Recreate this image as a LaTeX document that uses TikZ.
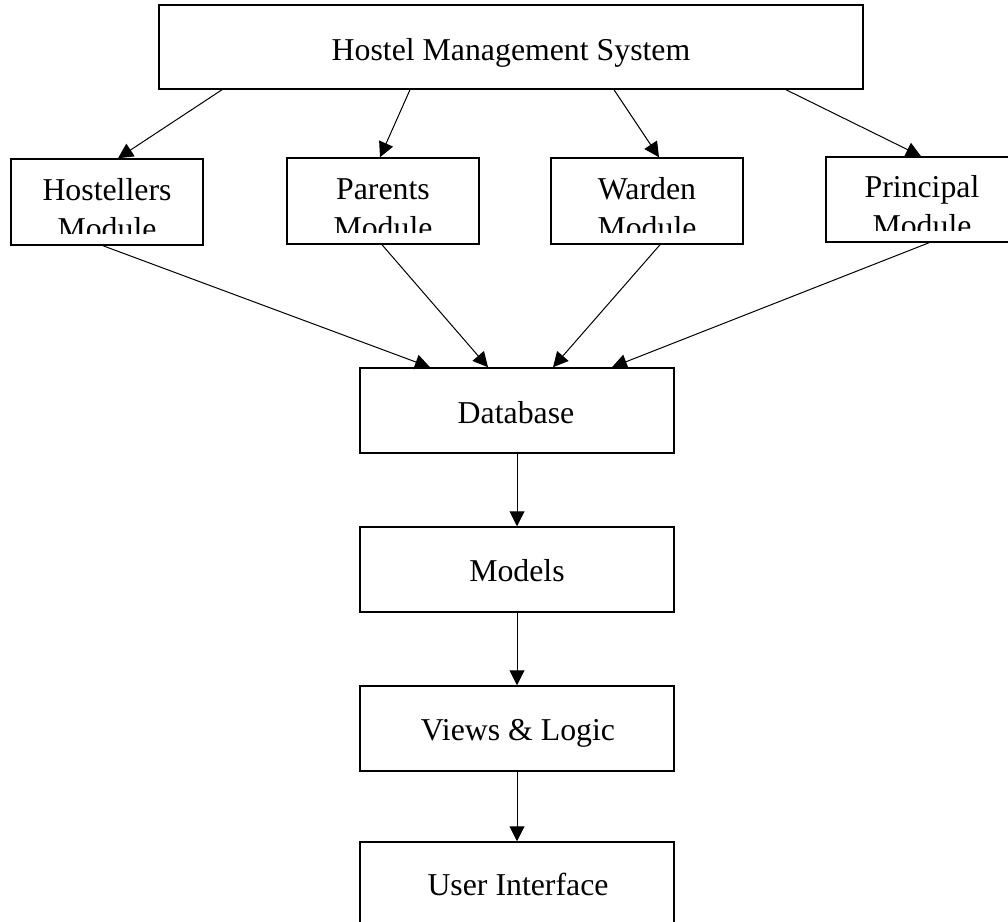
\documentclass[tikz,border=0pt]{standalone}
\usepackage{fontspec}
\setmainfont{Liberation Serif}
\usetikzlibrary{arrows.meta}
\begin{document}
\begin{tikzpicture}[x=1pt,y=-1pt,
  box/.style={draw,line width=1.5pt,rectangle,inner sep=0pt,minimum width=192pt,minimum height=86pt},
  wbox/.style={draw,line width=1.5pt,rectangle,inner sep=0pt,minimum width=314pt,minimum height=85pt},
  lbl/.style={anchor=base,inner sep=0pt,font=\fontsize{31.8}{39}\selectfont},
  arr/.style={line width=1pt,-{Triangle[length=15pt,width=15pt]}}]
\useasboundingbox (0,0) rectangle (1008,921);
% boxes
\node[draw,line width=1.5pt,rectangle,inner sep=0pt,minimum width=704pt,minimum height=84pt] (top) at (511,47) {};
\node[box] (hst) at (107,202) {};
\node[box] (par) at (383,201) {};
\node[box] (war) at (647,201) {};
\node[box,minimum height=85pt] (pri) at (922,199.5) {};
\node[wbox] (db) at (517,410.5) {};
\node[wbox] (mod) at (517,569.5) {};
\node[wbox] (vl) at (517,728.5) {};
\node[wbox] (ui) at (517,884.5) {};
% labels
\node[lbl] (topt) at (511,60) {Hostel Management System};
\begin{scope}
\clip (hst.north west) rectangle ([yshift=12pt]hst.south east);
\node[lbl] (hsta) at (107,200) {Hostellers};
\node[lbl] (hstb) at (107,239) {Module};
\end{scope}
\begin{scope}
\clip (par.north west) rectangle ([yshift=12pt]par.south east);
\node[lbl] (para) at (383,199) {Parents};
\node[lbl] (parb) at (383,238) {Module};
\end{scope}
\begin{scope}
\clip (war.north west) rectangle ([yshift=12pt]war.south east);
\node[lbl] (wara) at (647,199) {Warden};
\node[lbl] (warb) at (647,238) {Module};
\end{scope}
\begin{scope}
\clip (pri.north west) rectangle ([yshift=12pt]pri.south east);
\node[lbl] (pria) at (922,197) {Principal};
\node[lbl] (prib) at (922,236) {Module};
\end{scope}
\node[lbl] (dbt) at (516,423) {Database};
\node[lbl] (modt) at (517,581) {Models};
\node[lbl] (vlt) at (518,740) {Views \& Logic};
\node[lbl] (uit) at (518,895) {User Interface};
% connectors
\draw[arr] (top.south -| 222,0) -- (hst.north -| 118,0);
\draw[arr] (top.south -| 410,0) -- (par.north -| 380,0);
\draw[arr] (top.south -| 614,0) -- (war.north -| 659,0);
\draw[arr] (top.south -| 786,0) -- (pri.north -| 921,0);
\draw[arr] (hst.south -| 103,0) -- (db.north -| 430,0);
\draw[arr] (par.south -| 382,0) -- (db.north -| 488,0);
\draw[arr] (war.south -| 660,0) -- (db.north -| 553,0);
\draw[arr] (pri.south -| 929,0) -- (db.north -| 612,0);
\draw[arr] (db.south) -- (mod.north);
\draw[arr] (mod.south) -- (vl.north);
\draw[arr] (vl.south) -- (ui.north);
\end{tikzpicture}
\end{document}
